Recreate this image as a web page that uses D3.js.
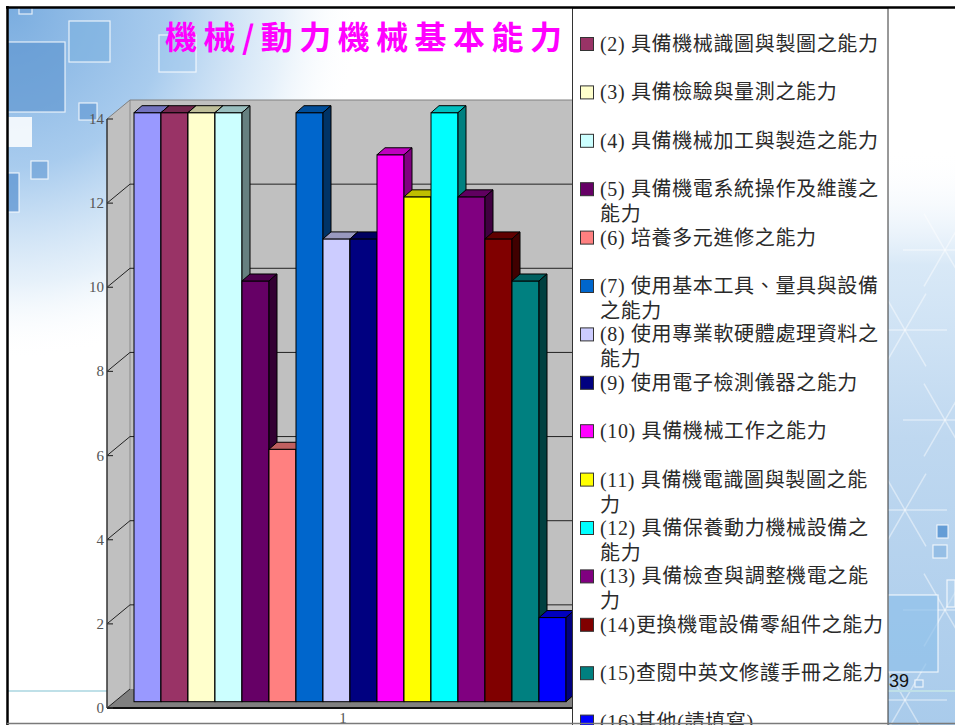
<!DOCTYPE html>
<html><head><meta charset="utf-8">
<script src="https://cdn.jsdelivr.net/npm/d3@7"></script>
<style>html,body{margin:0;padding:0;background:#fff;overflow:hidden}</style>
</head><body>
<svg id="c" width="955" height="725"></svg>
<script>
// ---------------- data ----------------
const chartTitle = "機械/動力機械基本能力";
const categories = ["1"];
const seriesLabels = [
  ["(1)"],
  ["(2) 具備機械識圖與製圖之能力"],
  ["(3) 具備檢驗與量測之能力"],
  ["(4) 具備機械加工與製造之能力"],
  ["(5) 具備機電系統操作及維護之", "能力"],
  ["(6) 培養多元進修之能力"],
  ["(7) 使用基本工具、量具與設備", "之能力"],
  ["(8) 使用專業軟硬體處理資料之", "能力"],
  ["(9) 使用電子檢測儀器之能力"],
  ["(10) 具備機械工作之能力"],
  ["(11) 具備機電識圖與製圖之能", "力"],
  ["(12) 具備保養動力機械設備之", "能力"],
  ["(13) 具備檢查與調整機電之能", "力"],
  ["(14)更換機電設備零組件之能力"],
  ["(15)查閱中英文修護手冊之能力"],
  ["(16)其他(請填寫)"]
];
const seriesValues = [14, 14, 14, 14, 10, 6, 14, 11, 11, 13, 12, 14, 12, 11, 10, 2];
const seriesColors = ["#9999FF","#993366","#FFFFCC","#CCFFFF","#660066","#FF8080","#0066CC","#CCCCFF",
                      "#000080","#FF00FF","#FFFF00","#00FFFF","#800080","#800000","#008080","#0000FF"];
const yTicks = [0, 2, 4, 6, 8, 10, 12, 14];
const pageNumber = "39";

// ---------------- layout ----------------
const svg = d3.select("#c");
const defs = svg.append("defs");

// background decoration (slide template)
const g1 = defs.append("radialGradient").attr("id","bgTL").attr("gradientUnits","userSpaceOnUse")
  .attr("cx",10).attr("cy",10).attr("r",350);
g1.append("stop").attr("offset",0).attr("stop-color","#74a9de").attr("stop-opacity",0.95);
g1.append("stop").attr("offset",0.45).attr("stop-color","#9fc6ec").attr("stop-opacity",0.9);
g1.append("stop").attr("offset",0.78).attr("stop-color","#dcebf8").attr("stop-opacity",0.7);
g1.append("stop").attr("offset",1).attr("stop-color","#ffffff").attr("stop-opacity",0);
const g2 = defs.append("linearGradient").attr("id","bgR").attr("gradientUnits","userSpaceOnUse")
  .attr("x1",0).attr("y1",150).attr("x2",0).attr("y2",725);
g2.append("stop").attr("offset",0).attr("stop-color","#ffffff").attr("stop-opacity",0);
g2.append("stop").attr("offset",0.2).attr("stop-color","#d4e6f6").attr("stop-opacity",0.9);
g2.append("stop").attr("offset",0.5).attr("stop-color","#bfd8f0").attr("stop-opacity",1);
g2.append("stop").attr("offset",1).attr("stop-color","#a9cbeb").attr("stop-opacity",1);

const bg = svg.append("g");
bg.append("rect").attr("x",0).attr("y",0).attr("width",955).attr("height",725).attr("fill","#fff");
bg.append("rect").attr("x",8).attr("y",8).attr("width",370).attr("height",370).attr("fill","url(#bgTL)");
bg.append("rect").attr("x",880).attr("y",150).attr("width",75).attr("height",575).attr("fill","url(#bgR)");
// faint asanoha-like white strokes on the right band
const starCenters = [[905,330],[945,420],[905,510],[945,610],[905,700],[945,250]];
starCenters.forEach(([cx, cy]) => {
  d3.range(6).forEach(k => {
    const a = k * Math.PI / 3;
    bg.append("line").attr("x1",cx).attr("y1",cy)
      .attr("x2",cx + 42*Math.cos(a)).attr("y2",cy + 42*Math.sin(a))
      .attr("stroke","#fff").attr("stroke-opacity",0.45).attr("stroke-width",1.5);
  });
});
const squares = [
  [19,7,13,7,"#6fa0d6",0.6],[69,21,41,41,"#7cb0e0",0.6],[7,42,58,70,"#5d95d0",0.65],
  [159,35,37,37,"#9cc5ec",0.5],[79,103,18,17,"#5a92d0",0.6],[31,161,17,18,"#5b94d0",0.55],
  [7,173,12,39,"#4f8bcc",0.65],[937,525,11,13,"#4f8fd0",0.8],[933,545,14,13,"#7fb0e0",0.6],
  [888,595,50,77,"#8fc0ea",0.7],[947,580,8,27,"#b8d6f0",0.5],[915,680,8,7,"#a0c4e8",0.8]
];
bg.selectAll("rect.sq").data(squares).join("rect").attr("class","sq")
  .attr("x",d=>d[0]).attr("y",d=>d[1]).attr("width",d=>d[2]).attr("height",d=>d[3])
  .attr("fill",d=>d[4]).attr("fill-opacity",d=>d[5]).attr("stroke","#fff").attr("stroke-opacity",0.8).attr("stroke-width",1.2);
bg.append("rect").attr("x",7).attr("y",117).attr("width",25).attr("height",30).attr("fill","#fff").attr("fill-opacity",0.85);
bg.append("line").attr("x1",8).attr("x2",955).attr("y1",691).attr("y2",691)
  .attr("stroke","#bfe0e8").attr("stroke-width",2);

// title (spacing fitted to the reference span)
const titleEl = svg.append("text").attr("x",165).attr("y",49)
  .attr("font-family","'Noto Sans CJK TC','Noto Sans CJK SC',sans-serif")
  .attr("font-size",32).attr("font-weight","bold")
  .attr("fill","#FF00FF").text(chartTitle);
{
  const len = titleEl.node().getComputedTextLength();
  const n = Array.from(chartTitle).length;
  titleEl.attr("letter-spacing", Math.max(0, (397 - len) / (n - 1)));
}

// scales
const y = d3.scaleLinear().domain([0, 14]).range([708, 119]);
const xBar = d3.scaleBand().domain(d3.range(seriesValues.length)).range([134, 566]).padding(0);
const xCat = d3.scalePoint().domain(categories).range([107, 579]).padding(0.5);
const axisX = 107, wallDX = 23, wallDY = -19, wallRight = 600;
const barOffY = -6.3, barDX = 8, barDY = -7;

defs.append("clipPath").attr("id","plotClip").append("rect")
  .attr("x",0).attr("y",0).attr("width",572).attr("height",725);
const plot = svg.append("g").attr("clip-path","url(#plotClip)");

// walls
plot.append("polygon").attr("fill","#C0C0C0")
  .attr("points",[[axisX,y(14)],[axisX+wallDX,y(14)+wallDY],[axisX+wallDX,y(0)+wallDY],[axisX,y(0)]].join(" "));
plot.append("rect").attr("x",axisX+wallDX).attr("y",y(14)+wallDY)
  .attr("width",wallRight-axisX-wallDX).attr("height",y(0)-y(14)).attr("fill","#C0C0C0");
plot.append("line").attr("x1",axisX+wallDX).attr("x2",axisX+wallDX)
  .attr("y1",y(14)+wallDY).attr("y2",y(0)+wallDY).attr("stroke","#8a8a8a").attr("stroke-width",1);

// gridlines
plot.selectAll("path.grid").data(yTicks.filter(t=>t>0)).join("path").attr("class","grid")
  .attr("fill","none")
  .attr("stroke",d=>d===14?"#808080":"#222").attr("stroke-width",1)
  .attr("d",d=>`M${axisX},${y(d)}L${axisX+wallDX},${y(d)+wallDY}L${wallRight},${y(d)+wallDY}`);

// floor
plot.append("polygon").attr("fill","#808080")
  .attr("points",[[axisX,y(0)],[axisX+wallDX,y(0)+wallDY],[wallRight,y(0)+wallDY],[wallRight-wallDX,y(0)]].join(" "));
plot.append("line").attr("x1",axisX).attr("x2",wallRight-wallDX).attr("y1",y(0)).attr("y2",y(0))
  .attr("stroke","#111").attr("stroke-width",2);
plot.append("line").attr("x1",axisX).attr("x2",axisX+wallDX).attr("y1",y(0)).attr("y2",y(0)+wallDY)
  .attr("stroke","#222").attr("stroke-width",1);

// bars
function shade(c, k){ const r = d3.rgb(c); return d3.rgb(r.r*k, r.g*k, r.b*k).formatHex(); }
const bars = plot.selectAll("g.bar").data(seriesValues).join("g").attr("class","bar");
bars.each(function(v, i){
  const g = d3.select(this);
  const x0 = xBar(i), w = xBar.bandwidth();
  const yt = y(v) + barOffY, yb = y(0) + barOffY;
  const c = seriesColors[i];
  g.append("rect").attr("x",x0).attr("y",yt).attr("width",w).attr("height",yb-yt)
    .attr("fill",c).attr("stroke","#000").attr("stroke-width",1);
  g.append("polygon").attr("fill",shade(c,0.75)).attr("stroke","#000").attr("stroke-width",1)
    .attr("stroke-linejoin","round")
    .attr("points",[[x0,yt],[x0+w,yt],[x0+w+barDX,yt+barDY],[x0+barDX,yt+barDY]].join(" "));
  g.append("polygon").attr("fill",shade(c,0.5)).attr("stroke","#000").attr("stroke-width",1)
    .attr("stroke-linejoin","round")
    .attr("points",[[x0+w,yt],[x0+w+barDX,yt+barDY],[x0+w+barDX,yb+barDY],[x0+w,yb]].join(" "));
});

// y axis
svg.append("line").attr("x1",axisX).attr("x2",axisX).attr("y1",y(14)).attr("y2",y(0))
  .attr("stroke","#333").attr("stroke-width",1.5);
svg.selectAll("line.tick").data(yTicks).join("line").attr("class","tick")
  .attr("x1",axisX).attr("x2",axisX+6).attr("y1",d=>y(d)).attr("y2",d=>y(d))
  .attr("stroke","#333").attr("stroke-width",1.2);
svg.selectAll("text.ylab").data(yTicks).join("text").attr("class","ylab")
  .attr("x",axisX-3).attr("y",d=>y(d)+5).attr("text-anchor","end")
  .attr("font-family","'Liberation Serif','Times New Roman',serif").attr("font-size",15)
  .attr("fill","#555").text(d=>d);
svg.selectAll("text.xlab").data(categories).join("text").attr("class","xlab")
  .attr("x",d=>xCat(d)).attr("y",723).attr("text-anchor","middle")
  .attr("font-family","'Liberation Serif','Times New Roman',serif").attr("font-size",15)
  .attr("fill","#555").text(d=>d);

// legend
svg.append("rect").attr("x",572.5).attr("y",8).attr("width",315.5).attr("height",720)
  .attr("fill","#fff").attr("stroke","#333").attr("stroke-width",1);
defs.append("clipPath").attr("id","legClip").append("rect")
  .attr("x",573).attr("y",9).attr("width",315).attr("height",716);
const leg = svg.append("g").attr("clip-path","url(#legClip)");
const legY = d3.scaleLinear().domain([1, 2]).range([44 - 48.4, 44]);
// the legend is scrolled: entries above the box top are not shown
const legData = seriesLabels.map((lines, i) => ({lines, i})).filter(d => legY(d.i + 1) > 9);
const items = leg.selectAll("g.li").data(legData).join("g").attr("class","li")
  .attr("transform",d=>`translate(0,${legY(d.i+1)})`);
items.append("rect").attr("x",580.5).attr("y",-6.5).attr("width",13).attr("height",13)
  .attr("fill",d=>seriesColors[d.i]).attr("stroke","#333").attr("stroke-width",1);
const legTexts = [];
items.each(function(d){
  const t = d3.select(this).append("text")
    .attr("font-family","'Liberation Serif','Noto Sans CJK TC',serif")
    .attr("font-size",20).attr("fill","#2a2a2a");
  d.lines.forEach((s, k)=>{
    t.append("tspan").attr("x",600).attr("y",7 + k*25).text(s);
  });
  legTexts.push(t);
});
{
  // fit letter spacing so that entry (2) spans the same width as in the reference
  const probe = legTexts[0].select("tspan").node();
  const len = probe.getComputedTextLength();
  const n = Array.from(legData[0].lines[0]).length;
  const ls = Math.max(0, (278 - len) / (n - 1));
  legTexts.forEach(t => t.attr("letter-spacing", ls));
}

// frame
svg.append("line").attr("x1",6).attr("x2",955).attr("y1",7.5).attr("y2",7.5)
  .attr("stroke","#000").attr("stroke-width",2.5);
svg.append("line").attr("x1",7.5).attr("x2",7.5).attr("y1",6).attr("y2",725)
  .attr("stroke","#000").attr("stroke-width",2.5);
svg.append("line").attr("x1",7).attr("x2",955).attr("y1",723.5).attr("y2",723.5)
  .attr("stroke","#7a7a7a").attr("stroke-width",1.5);

// page number
svg.append("text").attr("x",889).attr("y",687)
  .attr("font-family","'Liberation Sans',Arial,sans-serif").attr("font-size",18)
  .attr("fill","#111").text(pageNumber);
</script>
</body></html>
